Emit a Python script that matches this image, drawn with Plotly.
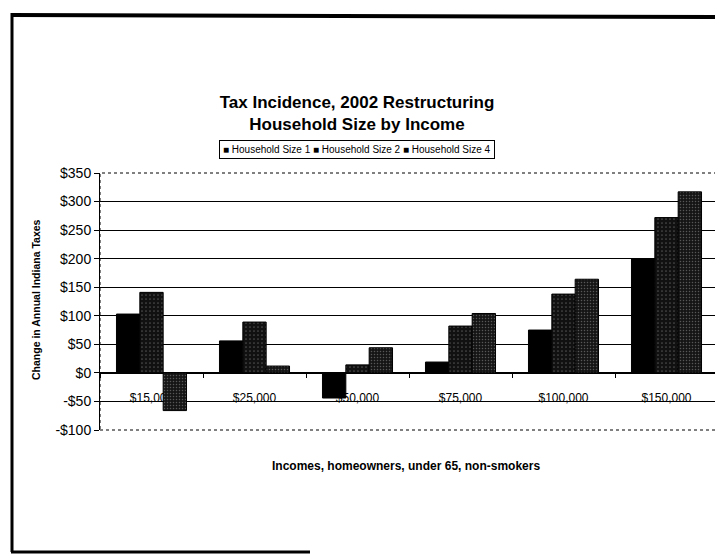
import plotly.graph_objects as go

# ---- data ----
categories = ["$15,000", "$25,000", "$50,000", "$75,000", "$100,000", "$150,000"]
series_names = ["Household Size 1", "Household Size 2", "Household Size 4"]
hs1 = [103, 56, -44, 19, 75, 200]
hs2 = [141, 89, 14, 82, 138, 272]
hs4 = [-66, 12, 44, 104, 164, 317]
y_ticks = [-100, -50, 0, 50, 100, 150, 200, 250, 300, 350]
y_tick_labels = ["-$100", "-$50", "$0", "$50", "$100", "$150", "$200", "$250", "$300", "$350"]

title_text = "Tax Incidence, 2002 Restructuring<br>Household Size by Income"
x_title = "Incomes, homeowners, under 65, non-smokers"
y_title = "Change in Annual Indiana Taxes"

SANS = "Liberation Sans, Arial, sans-serif"

styles = [
    dict(color="#000000"),
    dict(color="#111111", pattern=dict(shape=".", fgcolor="#8a8a8a", bgcolor="#111111", size=4, solidity=0.15)),
    dict(color="#111111", pattern=dict(shape=".", fgcolor="#9a9a9a", bgcolor="#151515", size=3, solidity=0.2)),
]

fig = go.Figure()
for name, vals, st in zip(series_names, [hs1, hs2, hs4], styles):
    fig.add_trace(go.Bar(
        x=categories, y=vals, name=name,
        marker=dict(line=dict(color="#000000", width=1), **st),
        showlegend=False,
    ))

# page body adds an 8px offset; work in reference-pixel coordinates
OFF = 8
W, H = 723 - OFF, 554 - OFF
P_LEFT, P_RIGHT, P_TOP, P_BOTTOM = 100, 718, 173, 430   # plot area in reference pixels
L = P_LEFT - OFF
R = W - (P_RIGHT - OFF)
T = P_TOP - OFF
B = H - (P_BOTTOM - OFF)
pw, ph = W - L - R, H - T - B

def px_x(px):
    return (px - P_LEFT) / pw

def px_y(py):
    return (P_BOTTOM - py) / ph

ymin, ymax = y_ticks[0], y_ticks[-1]

fig.update_layout(
    width=W, height=H,
    margin=dict(l=L, r=R, t=T, b=B, autoexpand=False),
    paper_bgcolor="white", plot_bgcolor="white",
    barmode="group", bargap=0.32, bargroupgap=0,
    title=dict(text="<b>" + title_text.replace("<br>", "</b><br><b>") + "</b>",
               x=(357 - OFF) / W, xanchor="center", y=1 - (108 - OFF) / H, yanchor="top",
               font=dict(family=SANS, size=17, color="black")),
    xaxis=dict(
        type="category", anchor="free", position=(0 - ymin) / (ymax - ymin),
        showline=True, linecolor="black", linewidth=1,
        ticks="outside", tickson="boundaries", ticklen=4, tickcolor="black",
        tickfont=dict(family=SANS, size=12, color="black"),
        ticklabelstandoff=14,
        showgrid=False, layer="below traces", automargin=False,
    ),
    yaxis=dict(
        range=[ymin, ymax], tickvals=y_ticks, ticktext=y_tick_labels,
        showline=True, linecolor="black", linewidth=1,
        ticks="outside", ticklen=5, tickcolor="black",
        tickfont=dict(family=SANS, size=14, color="black"),
        showgrid=True, gridcolor="black", gridwidth=1,
        zeroline=True, zerolinecolor="black", zerolinewidth=1,
        automargin=False, layer="below traces",
    ),
    font=dict(family=SANS, color="black"),
)

# legend built from series names
legend_text = " ".join("■ " + n for n in series_names)
fig.add_annotation(
    text=legend_text, xref="paper", yref="paper",
    x=px_x(357), y=px_y(149), xanchor="center", yanchor="middle",
    showarrow=False, font=dict(family=SANS, size=10, color="black"),
    bordercolor="black", borderwidth=1, borderpad=3, bgcolor="white",
)
fig.add_annotation(
    text="<b>" + x_title + "</b>", xref="paper", yref="paper",
    x=px_x(406), y=px_y(466), xanchor="center", yanchor="middle",
    showarrow=False, font=dict(family=SANS, size=12, color="black"),
)
fig.add_annotation(
    text="<b>" + y_title + "</b>", xref="paper", yref="paper",
    x=px_x(36), y=px_y(300), xanchor="center", yanchor="middle", textangle=-90,
    showarrow=False, font=dict(family=SANS, size=10.5, color="black"),
)

# dotted plot-area border
fig.add_shape(type="rect", xref="paper", yref="paper", x0=0, y0=0, x1=1, y1=1,
              line=dict(color="black", width=1, dash="dot"), layer="above")
# outer frame lines (scanned page border)
fig.add_shape(type="line", xref="paper", yref="paper",
              x0=px_x(11), x1=px_x(723), y0=px_y(15), y1=px_y(17),
              line=dict(color="black", width=4))
fig.add_shape(type="line", xref="paper", yref="paper",
              x0=px_x(12), x1=px_x(12), y0=px_y(13), y1=px_y(552),
              line=dict(color="black", width=3))
fig.add_shape(type="line", xref="paper", yref="paper",
              x0=px_x(11), x1=px_x(310), y0=px_y(552), y1=px_y(552),
              line=dict(color="black", width=3))

fig.write_html("out.html")
